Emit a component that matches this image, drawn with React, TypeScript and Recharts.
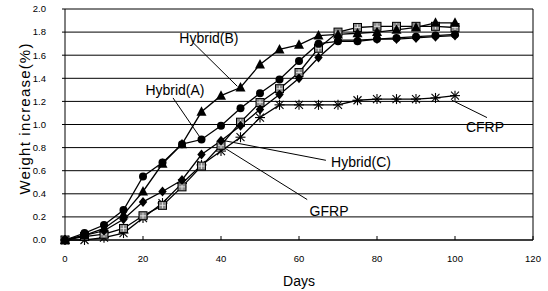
import React from 'react';
import { LineChart, Line, XAxis, YAxis, CartesianGrid, ReferenceLine, ReferenceDot } from 'recharts';

const days = [0, 5, 10, 15, 20, 25, 30, 35, 40, 45, 50, 55, 60, 65, 70, 75, 80, 85, 90, 95, 100];
const hybridA = [0, 0.06, 0.13, 0.26, 0.55, 0.67, 0.83, 0.87, 0.99, 1.14, 1.27, 1.39, 1.55, 1.7, 1.72, 1.72, 1.74, 1.75, 1.76, 1.77, 1.78];
const hybridB = [0, 0.04, 0.1, 0.22, 0.42, 0.66, 0.83, 1.11, 1.25, 1.32, 1.52, 1.65, 1.69, 1.77, 1.78, 1.79, 1.8, 1.82, 1.84, 1.88, 1.88];
const hybridC = [0, 0.04, 0.08, 0.18, 0.33, 0.42, 0.52, 0.74, 0.86, 0.99, 1.13, 1.26, 1.4, 1.58, 1.73, 1.73, 1.74, 1.74, 1.75, 1.76, 1.77];
const gfrp = [0, 0.03, 0.05, 0.1, 0.21, 0.3, 0.46, 0.64, 0.82, 1.02, 1.19, 1.31, 1.45, 1.66, 1.8, 1.84, 1.85, 1.85, 1.85, 1.85, 1.84];
const cfrp = [0, 0, 0.02, 0.06, 0.19, 0.32, 0.49, 0.65, 0.77, 0.89, 1.06, 1.17, 1.17, 1.17, 1.17, 1.21, 1.22, 1.22, 1.22, 1.23, 1.25];

const xTicks = [0, 20, 40, 60, 80, 100, 120];
const yTicks = [0, 0.2, 0.4, 0.6, 0.8, 1.0, 1.2, 1.4, 1.6, 1.8, 2.0];

// annotation labels: text, text anchor (day, value), pointer from / to (day, value)
const annotationNames = ['Hybrid(B)', 'Hybrid(A)', 'Hybrid(C)', 'GFRP', 'CFRP'];
const annotationText = [[36.9, 1.75], [28.2, 1.3], [75.9, 0.675], [67.7, 0.25], [107.7, 0.98]];
const annotationFrom = [[32.8, 1.71], [27.7, 1.23], [66.9, 0.69], [62.1, 0.35], [108.2, 1.06]];
const annotationTo = [[44.2, 1.33], [34.6, 0.89], [40.8, 0.86], [40.3, 0.81], [99.2, 1.21]];

const data = days.map((d, i) => ({
  day: d,
  hybridA: hybridA[i],
  hybridB: hybridB[i],
  hybridC: hybridC[i],
  gfrp: gfrp[i],
  cfrp: cfrp[i],
}));

const FONT = '"Liberation Sans", Arial, Helvetica, sans-serif';

const CircleDot = (p: any) => <circle key={p.key} cx={p.cx} cy={p.cy} r={4} fill="#000" />;
const TriDot = (p: any) => (
  <polygon key={p.key} points={`${p.cx},${p.cy - 5.5} ${p.cx - 5},${p.cy + 4} ${p.cx + 5},${p.cy + 4}`} fill="#000" />
);
const DiamondDot = (p: any) => (
  <polygon key={p.key} points={`${p.cx},${p.cy - 5} ${p.cx + 4.2},${p.cy} ${p.cx},${p.cy + 5} ${p.cx - 4.2},${p.cy}`} fill="#000" />
);
const SquareDot = (p: any) => (
  <g key={p.key}>
    <rect x={p.cx - 4} y={p.cy - 4} width={8} height={8} fill="#8a8a8a" stroke="#000" strokeWidth={1} />
    <line x1={p.cx - 3} y1={p.cy} x2={p.cx + 3} y2={p.cy} stroke="#eee" strokeWidth={0.8} />
    <line x1={p.cx} y1={p.cy - 3} x2={p.cx} y2={p.cy + 3} stroke="#eee" strokeWidth={0.8} />
  </g>
);
const StarDot = (p: any) => (
  <g key={p.key} stroke="#000" strokeWidth={1.1}>
    <line x1={p.cx - 5} y1={p.cy} x2={p.cx + 5} y2={p.cy} />
    <line x1={p.cx} y1={p.cy - 5} x2={p.cx} y2={p.cy + 5} />
    <line x1={p.cx - 4} y1={p.cy - 4} x2={p.cx + 4} y2={p.cy + 4} />
    <line x1={p.cx - 4} y1={p.cy + 4} x2={p.cx + 4} y2={p.cy - 4} />
  </g>
);

const YLabel = (props: any) => {
  const vb = props.viewBox || { x: 20, y: 9, width: 45, height: 231 };
  const x = vb.x + 4;
  const y = vb.y + vb.height / 2 - 6;
  return (
    <text x={x} y={y} transform={`rotate(-90 ${x} ${y})`} textAnchor="middle" dominantBaseline="central"
      fontSize={15} fill="#000" fontFamily={FONT} letterSpacing={1.2}>
      Weight increase(%)
    </text>
  );
};

export default function App() {
  return (
    <div style={{ position: 'absolute', left: 0, top: 0, width: 548, height: 291, background: '#fff' }}>
      <LineChart width={548} height={291} data={data} margin={{ top: 9, right: 15, left: 20, bottom: 3 }}
        style={{ fontFamily: FONT }}>
        <CartesianGrid vertical={false} stroke="#000" strokeWidth={1} />
        <XAxis type="number" dataKey="day" domain={[0, 120]} ticks={xTicks} height={48}
          stroke="#000" tickSize={-4} tickMargin={19}
          tick={{ fontSize: 9.5, fill: '#000', fontFamily: FONT }}
          label={{ value: 'Days', position: 'insideBottom', offset: 2, fontSize: 14, fill: '#000', fontFamily: FONT }} />
        <YAxis type="number" domain={[0, 2]} ticks={yTicks} width={45} stroke="#000"
          tickSize={3} tickMargin={16} tickFormatter={(v: number) => v.toFixed(1)}
          tick={{ fontSize: 9.5, fill: '#000', fontFamily: FONT }}
          label={<YLabel />} />
        <ReferenceLine x={120} stroke="#000" strokeWidth={1} />
        <Line dataKey="cfrp" stroke="#000" strokeWidth={1.3} dot={StarDot} isAnimationActive={false} />
        <Line dataKey="gfrp" stroke="#000" strokeWidth={1.3} dot={SquareDot} isAnimationActive={false} />
        <Line dataKey="hybridC" stroke="#000" strokeWidth={1.3} dot={DiamondDot} isAnimationActive={false} />
        <Line dataKey="hybridA" stroke="#000" strokeWidth={1.3} dot={CircleDot} isAnimationActive={false} />
        <Line dataKey="hybridB" stroke="#000" strokeWidth={1.3} dot={TriDot} isAnimationActive={false} />
        {annotationNames.map((name, i) => (
          <ReferenceLine key={'l' + name}
            segment={[{ x: annotationFrom[i][0], y: annotationFrom[i][1] }, { x: annotationTo[i][0], y: annotationTo[i][1] }]}
            stroke="#000" strokeWidth={1} />
        ))}
        {annotationNames.map((name, i) => (
          <ReferenceDot key={'t' + name} x={annotationText[i][0]} y={annotationText[i][1]} r={0}
            shape={(p: any) => (
              <text x={p.cx} y={p.cy} textAnchor="middle" dominantBaseline="central" fontSize={14}
                fill="#000" fontFamily={FONT} style={{ background: '#fff' }}>
                {name}
              </text>
            )} />
        ))}
      </LineChart>
    </div>
  );
}
